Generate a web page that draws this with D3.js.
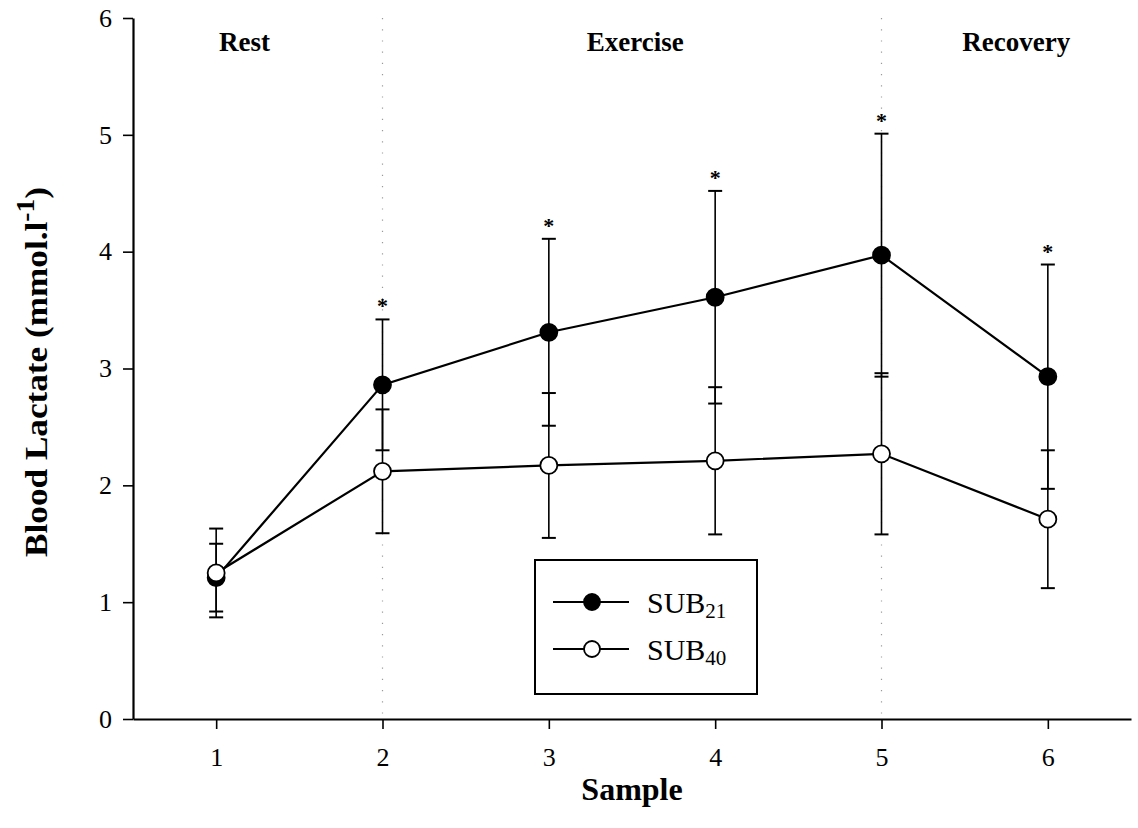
<!DOCTYPE html>
<html>
<head>
<meta charset="utf-8">
<script src="https://cdn.jsdelivr.net/npm/d3@7"></script>
<style>
  html, body { margin: 0; padding: 0; background: #fff; }
  svg { display: block; font-family: "Liberation Serif", "Times New Roman", serif; }
</style>
</head>
<body>
<svg id="chart" width="1138" height="828"></svg>
<script>
// Blood lactate by sample point, two protocols (mean ± SD)
const samples = [1, 2, 3, 4, 5, 6];
const sub21Mean = [1.21, 2.86, 3.31, 3.61, 3.97, 2.93];
const sub21Sd   = [0.29, 0.56, 0.80, 0.91, 1.04, 0.96];
const sub40Mean = [1.25, 2.12, 2.17, 2.21, 2.27, 1.71];
const sub40Sd   = [0.38, 0.53, 0.62, 0.63, 0.69, 0.59];
const significant = [2, 3, 4, 5, 6];   // samples marked with *
const yTicks = [0, 1, 2, 3, 4, 5, 6];
const phases = [
  { label: "Rest", at: 1.17 },
  { label: "Exercise", at: 3.52 },
  { label: "Recovery", at: 5.81 }
];
const phaseBounds = [2, 5];

const svg = d3.select("#chart");
const x = d3.scaleLinear().domain([0.5, 6.5]).range([133, 1131]);
const y = d3.scaleLinear().domain([0, 6]).range([719, 18]);

// phase boundaries (dotted)
svg.selectAll("line.phase").data(phaseBounds).join("line")
  .attr("x1", d => x(d)).attr("x2", d => x(d))
  .attr("y1", y(6)).attr("y2", y(0))
  .attr("stroke", "#9a9a9a").attr("stroke-width", 1.2)
  .attr("stroke-dasharray", "1.2,10");

// axes
const yAxis = d3.axisLeft(y).tickValues(yTicks).tickFormat(d3.format("d"))
  .tickSize(10).tickSizeOuter(0).tickPadding(11);
const gy = svg.append("g").attr("transform", `translate(${x(0.5)},0)`).call(yAxis);
const xAxis = d3.axisBottom(x).tickValues(samples).tickFormat(d3.format("d"))
  .tickSize(10).tickSizeOuter(0).tickPadding(19);
const gx = svg.append("g").attr("transform", `translate(0,${y(0)})`).call(xAxis);
[gx, gy].forEach(g => {
  g.select(".domain").attr("stroke", "#000").attr("stroke-width", 2.2);
  g.selectAll(".tick line").attr("stroke", "#000").attr("stroke-width", 1.6);
  g.selectAll(".tick text").attr("fill", "#000")
    .style("font-family", '"Liberation Serif", "Times New Roman", serif')
    .style("font-size", "26px");
});

// phase labels
svg.selectAll("text.phase").data(phases).join("text")
  .attr("x", d => x(d.at)).attr("y", 51)
  .attr("text-anchor", "middle")
  .style("font-weight", "bold").style("font-size", "27px")
  .text(d => d.label);

// axis titles
svg.append("text").attr("x", x(3.5)).attr("y", 800)
  .attr("text-anchor", "middle").style("font-weight", "bold").style("font-size", "32px")
  .text("Sample");
const yt = svg.append("text")
  .attr("transform", `translate(47,${y(2.97)}) rotate(-90) scale(1.1,1)`)
  .attr("text-anchor", "middle").style("font-weight", "bold").style("font-size", "32px");
yt.append("tspan").text("Blood Lactate (mmol.l");
yt.append("tspan").attr("dy", -13).style("font-size", "25px").text("-1");
yt.append("tspan").attr("dy", 13).text(")");

const series = [
  { name: "21", mean: sub21Mean, sd: sub21Sd, fill: "#000" },
  { name: "40", mean: sub40Mean, sd: sub40Sd, fill: "#fff" }
];

const line = d3.line().x((d, i) => x(samples[i])).y(d => y(d));
const cap = 7;

series.forEach(s => {
  const g = svg.append("g");
  const pts = samples.map((v, i) => ({ s: v, m: s.mean[i], e: s.sd[i] }));
  // error bars
  const eb = g.selectAll("g.err").data(pts).join("g");
  eb.append("line")
    .attr("x1", d => x(d.s)).attr("x2", d => x(d.s))
    .attr("y1", d => y(d.m + d.e)).attr("y2", d => y(d.m - d.e))
    .attr("stroke", "#000").attr("stroke-width", 1.6);
  [1, -1].forEach(sign => {
    eb.append("line")
      .attr("x1", d => x(d.s) - cap).attr("x2", d => x(d.s) + cap)
      .attr("y1", d => y(d.m + sign * d.e)).attr("y2", d => y(d.m + sign * d.e))
      .attr("stroke", "#000").attr("stroke-width", 2);
  });
  // connecting line
  g.append("path").datum(s.mean).attr("d", line)
    .attr("fill", "none").attr("stroke", "#000").attr("stroke-width", 2.2);
  // markers
  g.selectAll("circle").data(pts).join("circle")
    .attr("cx", d => x(d.s)).attr("cy", d => y(d.m)).attr("r", 8.5)
    .attr("fill", s.fill).attr("stroke", "#000").attr("stroke-width", 1.8);
});

// significance stars above SUB21 error bars
svg.selectAll("text.star").data(significant).join("text")
  .attr("x", d => x(d))
  .attr("y", d => { const i = samples.indexOf(d); return y(sub21Mean[i] + sub21Sd[i]) - 6; })
  .attr("text-anchor", "middle").style("font-weight", "bold").style("font-size", "22px")
  .text("*");

// legend
const lg = svg.append("g");
lg.append("rect").attr("x", 535).attr("y", 560).attr("width", 222).attr("height", 134)
  .attr("fill", "#fff").attr("stroke", "#000").attr("stroke-width", 2);
series.forEach((s, i) => {
  const cy = 602 + i * 47;
  lg.append("line").attr("x1", 553).attr("x2", 629).attr("y1", cy).attr("y2", cy)
    .attr("stroke", "#000").attr("stroke-width", 2);
  lg.append("circle").attr("cx", 592).attr("cy", cy).attr("r", 8)
    .attr("fill", s.fill).attr("stroke", "#000").attr("stroke-width", 1.8);
  const t = lg.append("text").attr("x", 647).attr("y", cy + 11).style("font-size", "30px");
  t.append("tspan").text("SUB");
  t.append("tspan").attr("dy", 5).style("font-size", "21px").text(s.name);
});
</script>
</body>
</html>
